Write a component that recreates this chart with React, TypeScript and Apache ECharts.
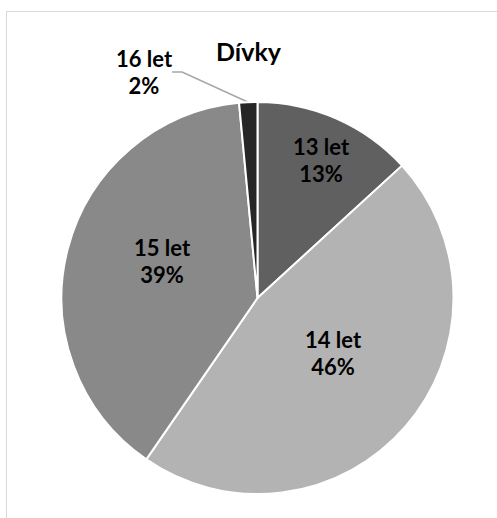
import React, { useEffect, useRef } from "react";
import * as echarts from "echarts";

const categories = ["13 let", "14 let", "15 let", "16 let"];
const shares = [13.2, 46.4, 38.9, 1.5];
const sliceColors = ["#606060", "#b3b3b3", "#898989", "#262626"];
const titleText = "Dívky";

// label block centres (layout only)
const labelCenters: [number, number][] = [
  [321, 160],
  [333, 353],
  [162, 261],
  [144, 72],
];

export default function App() {
  const ref = useRef<HTMLDivElement>(null);
  useEffect(() => {
    document.body.style.margin = "0";
    const chart = echarts.init(ref.current!, null, { renderer: "svg" });
    const font = "Lato, 'Open Sans', sans-serif";
    chart.setOption({
      animation: false,
      backgroundColor: "#ffffff",
      title: {
        text: titleText,
        left: "center",
        top: 33,
        textStyle: { fontFamily: font, fontWeight: "bold", fontSize: 25, color: "#000" },
      },
      graphic: [
        {
          type: "rect",
          shape: { x: 6.5, y: 11.5, width: 600, height: 600 },
          style: { fill: "none", stroke: "#d9d9d9", lineWidth: 1 },
          silent: true,
        },
      ],
      series: [
        {
          type: "pie",
          center: [257.5, 298],
          radius: 196,
          startAngle: 90,
          clockwise: true,
          avoidLabelOverlap: false,
          itemStyle: { borderColor: "#ffffff", borderWidth: 2 },
          label: {
            show: true,
            position: "inside",
            fontFamily: font,
            fontWeight: "bold",
            fontSize: 22,
            lineHeight: 27,
            color: "#000",
            align: "center",
            verticalAlign: "middle",
            formatter: (p: any) => `${p.name}\n${Math.round(p.value)}%`,
          },
          labelLine: { show: false },
          labelLayout: (p: any) => {
            const c = labelCenters[p.dataIndex];
            return { x: c[0], y: c[1], align: "center", verticalAlign: "middle" };
          },
          emphasis: { disabled: true },
          data: categories.map((name, i) => ({
            name,
            value: shares[i],
            itemStyle: { color: sliceColors[i] },
            ...(i === 3
              ? {
                  label: { position: "outside" },
                  labelLine: {
                    show: true,
                    length: 20,
                    length2: 10,
                    lineStyle: { color: "#a6a6a6", width: 1.5 },
                  },
                }
              : {}),
          })),
        },
      ],
    });
    return () => chart.dispose();
  }, []);
  return (
    <div
      ref={ref}
      style={{ position: "absolute", left: 0, top: 0, width: 497, height: 518 }}
    />
  );
}
